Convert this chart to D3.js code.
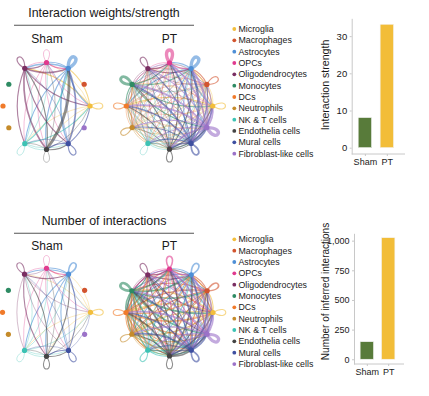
<!DOCTYPE html>
<html>
<head>
<meta charset="utf-8">
<script src="https://cdn.jsdelivr.net/npm/d3@7"></script>
<style>
  body { margin: 0; background: #fff; }
  text { font-family: "Liberation Sans", Arial, sans-serif; fill: #1a1a1a; }
</style>
</head>
<body>
<script>
// cell groups, in the order they sit round the circle (counter-clockwise from the right)
var cellTypes = ["Microglia", "Macrophages", "Astrocytes", "OPCs", "Oligodendrocytes", "Monocytes",
                 "DCs", "Neutrophils", "NK & T cells", "Endothelia cells", "Mural cells", "Fibroblast-like cells"];
var cellColors = ["#F2BE3C", "#D2542E", "#4E8FD6", "#E03A8E", "#7A2E62", "#2E8B63",
                  "#F07A2A", "#C58B2A", "#3DC2B4", "#444444", "#3E4FA0", "#9B72C8"];
var groups = ["Sham", "PT"];

// interaction strength, row = sender, column = receiver
var strengthSham = [
  [2, 0, 2, 1, 2, 0, 0, 0, 1, 1, 1, 0],
  [0, 0, 0, 0, 0, 0, 0, 0, 0, 0, 0, 0],
  [2, 0, 6, 2, 3, 0, 0, 0, 2, 2, 3, 0],
  [1, 0, 2, 1, 1, 0, 0, 0, 1, 1, 1, 0],
  [2, 0, 3, 2, 2, 0, 0, 0, 2, 3, 2, 0],
  [0, 0, 0, 0, 0, 0, 0, 0, 0, 0, 0, 0],
  [0, 0, 0, 0, 0, 0, 0, 0, 0, 0, 0, 0],
  [0, 0, 0, 0, 0, 0, 0, 0, 0, 0, 0, 0],
  [2, 0, 2, 1, 1, 0, 0, 0, 1, 1, 1, 0],
  [1, 0, 5, 1, 2, 0, 0, 0, 1, 1, 2, 0],
  [2, 0, 3, 1, 1, 0, 0, 0, 1, 2, 2, 0],
  [0, 0, 0, 0, 0, 0, 0, 0, 0, 0, 0, 0]
];
var strengthPT = [
  [2, 1, 2, 1, 1, 1, 2, 1, 1, 1, 1, 2],
  [1, 2, 2, 1, 1, 1, 1, 1, 1, 1, 1, 1],
  [2, 1, 6, 2, 1, 1, 2, 1, 1, 2, 2, 2],
  [1, 1, 2, 6, 1, 1, 1, 1, 1, 1, 1, 1],
  [1, 1, 2, 2, 2, 1, 1, 1, 1, 1, 1, 1],
  [2, 1, 2, 2, 1, 5, 2, 1, 1, 1, 1, 2],
  [1, 1, 1, 1, 1, 2, 2, 1, 1, 1, 1, 1],
  [1, 1, 1, 1, 1, 1, 2, 2, 1, 1, 1, 1],
  [1, 1, 1, 1, 1, 1, 1, 1, 1, 1, 1, 1],
  [2, 1, 2, 2, 1, 2, 2, 1, 1, 2, 2, 2],
  [3, 2, 4, 3, 2, 3, 3, 2, 2, 3, 3, 3],
  [3, 2, 4, 3, 2, 3, 3, 2, 2, 3, 3, 6]
];

// number of interactions, row = sender, column = receiver
var countSham = [
  [2, 0, 1, 1, 1, 0, 0, 0, 1, 1, 1, 0],
  [0, 0, 0, 0, 0, 0, 0, 0, 0, 0, 0, 0],
  [1, 0, 3, 2, 2, 0, 0, 0, 2, 2, 2, 0],
  [1, 0, 2, 1, 1, 0, 0, 0, 1, 1, 1, 0],
  [1, 0, 2, 1, 2, 0, 0, 0, 1, 2, 1, 0],
  [0, 0, 0, 0, 0, 0, 0, 0, 0, 0, 0, 0],
  [0, 0, 0, 0, 0, 0, 0, 0, 0, 0, 0, 0],
  [0, 0, 0, 0, 0, 0, 0, 0, 0, 0, 0, 0],
  [1, 0, 1, 1, 1, 0, 0, 0, 1, 1, 1, 0],
  [1, 0, 2, 1, 2, 0, 0, 0, 1, 2, 2, 0],
  [1, 0, 2, 1, 1, 0, 0, 0, 1, 2, 2, 0],
  [0, 0, 0, 0, 0, 0, 0, 0, 0, 0, 0, 0]
];
var countPT = [
  [2, 2, 2, 2, 1, 2, 3, 2, 1, 2, 2, 2],
  [2, 3, 2, 2, 1, 2, 2, 2, 1, 2, 2, 2],
  [2, 2, 3, 2, 2, 2, 2, 2, 2, 2, 2, 2],
  [2, 2, 2, 3, 1, 2, 2, 2, 1, 2, 2, 2],
  [2, 1, 2, 2, 2, 1, 2, 1, 1, 2, 2, 2],
  [3, 3, 3, 3, 2, 5, 3, 3, 2, 3, 3, 3],
  [3, 2, 2, 2, 2, 3, 2, 2, 2, 2, 2, 2],
  [2, 2, 2, 2, 1, 2, 3, 2, 1, 2, 2, 2],
  [1, 1, 2, 1, 1, 2, 2, 1, 2, 2, 2, 2],
  [3, 2, 3, 3, 2, 3, 3, 2, 2, 2, 3, 3],
  [3, 3, 3, 3, 2, 3, 3, 3, 2, 3, 3, 3],
  [3, 3, 4, 3, 2, 3, 3, 3, 2, 3, 3, 6]
];

// bar chart totals
var totalStrength = [8.1, 33.2];
var totalCount = [148, 1025];
var strengthTicks = [0, 10, 20, 30];
var countTicks = [0, 250, 500, 750, 1000];
var barColors = ["#587B3A", "#F2BD38"];

var svg = d3.select("body").append("svg")
  .attr("width", 429)
  .attr("height", 396);

var angle = d3.scaleLinear().domain([0, cellTypes.length]).range([0, 2 * Math.PI]);

function drawCircle(g, cx, cy, r, mat, wScale) {
  var pos = cellTypes.map(function (d, i) {
    var a = angle(i);
    return { x: cx + r * Math.cos(a), y: cy - r * Math.sin(a), a: a };
  });

  var edges = [];
  mat.forEach(function (row, i) {
    row.forEach(function (w, j) {
      if (i != j && w > 0) edges.push({ s: i, t: j, w: w });
    });
  });

  g.selectAll("path.edge")
    .data(edges)
    .enter().append("path")
    .attr("class", "edge")
    .attr("fill", "none")
    .attr("stroke", function (d) { return cellColors[d.s]; })
    .attr("stroke-opacity", 0.6)
    .attr("stroke-width", function (d) { return wScale(d.w); })
    .attr("d", function (d) {
      var p0 = pos[d.s], p1 = pos[d.t];
      var dx = p1.x - p0.x, dy = p1.y - p0.y;
      var mx = (p0.x + p1.x) / 2, my = (p0.y + p1.y) / 2;
      var k = 0.2;
      var p = d3.path();
      p.moveTo(p0.x, p0.y);
      p.quadraticCurveTo(mx - dy * k, my + dx * k, p1.x, p1.y);
      return p.toString();
    });

  // self-loops pointing outward
  var loops = [];
  mat.forEach(function (row, i) { if (row[i] > 0) loops.push({ i: i, w: row[i] }); });

  g.selectAll("path.loop")
    .data(loops)
    .enter().append("path")
    .attr("class", "loop")
    .attr("fill", "none")
    .attr("stroke", function (d) { return cellColors[d.i]; })
    .attr("stroke-opacity", 0.6)
    .attr("stroke-width", function (d) { return wScale(d.w); })
    .attr("d", function (d) {
      var p0 = pos[d.i];
      var L = 20, th = 0.55;
      var a1 = p0.a + th, a2 = p0.a - th;
      var p = d3.path();
      p.moveTo(p0.x, p0.y);
      p.bezierCurveTo(p0.x + L * Math.cos(a1), p0.y - L * Math.sin(a1),
                      p0.x + L * Math.cos(a2), p0.y - L * Math.sin(a2),
                      p0.x, p0.y);
      return p.toString();
    });

  g.selectAll("circle.node")
    .data(pos)
    .enter().append("circle")
    .attr("class", "node")
    .attr("cx", function (d) { return d.x; })
    .attr("cy", function (d) { return d.y; })
    .attr("r", 2.6)
    .attr("fill", function (d, i) { return cellColors[i]; });
}

function drawLegend(g, x, y0, step) {
  var item = g.selectAll("g.leg")
    .data(cellTypes)
    .enter().append("g")
    .attr("class", "leg")
    .attr("transform", function (d, i) { return "translate(" + x + "," + (y0 + i * step) + ")"; });
  item.append("circle")
    .attr("r", 1.9)
    .attr("fill", function (d, i) { return cellColors[i]; });
  item.append("text")
    .attr("x", 4.2)
    .attr("dy", "0.35em")
    .style("font-size", "8.8px")
    .text(function (d) { return d; });
}

function drawBars(g, values, ticks, o) {
  var y = d3.scaleLinear().domain(o.domain).range([o.yBottom, o.yTop]);
  var x = d3.scalePoint().domain(groups).range([o.x0, o.x1]).padding(0.6);

  g.selectAll("rect")
    .data(values)
    .enter().append("rect")
    .attr("x", function (d, i) { return x(groups[i]) - 6.7; })
    .attr("width", 13.4)
    .attr("y", function (d) { return y(d); })
    .attr("height", function (d) { return y(0) - y(d); })
    .attr("fill", function (d, i) { return barColors[i]; })
    .attr("stroke", "#f4f4f4")
    .attr("stroke-width", 0.6);

  var ya = g.append("g")
    .attr("transform", "translate(" + o.x0 + ",0)")
    .call(d3.axisLeft(y).tickValues(ticks).tickSize(2).tickPadding(2.5).tickSizeOuter(0));
  ya.select(".domain").attr("stroke", "#c8c8c8");
  ya.selectAll(".tick line").attr("stroke", "#c8c8c8");
  ya.selectAll(".tick text").style("font-size", o.tickFont).style("font-family", "Liberation Sans, Arial, sans-serif").attr("fill", "#1a1a1a");

  var xa = g.append("g")
    .attr("transform", "translate(0," + o.yBottom + ")")
    .call(d3.axisBottom(x).tickSize(2).tickPadding(3).tickSizeOuter(0));
  xa.select(".domain").attr("d", "M" + o.x0 + ",0H" + o.axisEnd).attr("stroke", "#c8c8c8");
  xa.selectAll(".tick line").attr("stroke", "#c8c8c8");
  xa.selectAll(".tick text").style("font-size", "9px").style("font-family", "Liberation Sans, Arial, sans-serif").attr("fill", "#1a1a1a");

  g.append("text")
    .attr("transform", "translate(" + o.labelX + "," + o.labelY + ") rotate(-90)")
    .attr("text-anchor", "middle")
    .style("font-size", o.labelFont)
    .text(o.label);
}

function drawHeader(g, title, yTitle, yLine, yGroup) {
  g.append("text").attr("x", 104).attr("y", yTitle).attr("text-anchor", "middle")
    .style("font-size", "12.4px").text(title);
  g.append("line").attr("x1", 14).attr("x2", 194).attr("y1", yLine).attr("y2", yLine)
    .attr("stroke", "#555").attr("stroke-width", 1.1);
  g.append("text").attr("x", 47).attr("y", yGroup).attr("text-anchor", "middle")
    .style("font-size", "12px").text(groups[0]);
  g.append("text").attr("x", 169.5).attr("y", yGroup).attr("text-anchor", "middle")
    .style("font-size", "12px").text(groups[1]);
}

// top panel: interaction strength
var maxS = d3.max(strengthSham.concat(strengthPT), function (r) { return d3.max(r); });
var wS = d3.scaleLinear().domain([0, maxS]).range([0, 3.4]);
var panelTop = svg.append("g");
drawHeader(panelTop, "Interaction weights/strength", 16.5, 25.3, 43);
drawCircle(panelTop.append("g"), 46.5, 106, 43.5, strengthSham, wS);
drawCircle(panelTop.append("g"), 169.5, 106, 43.2, strengthPT, wS);
drawLegend(panelTop.append("g"), 234.3, 29, 11.33);
drawBars(panelTop.append("g"), totalStrength, strengthTicks, {
  x0: 351.7, x1: 400, axisEnd: 405, yTop: 18.3, yBottom: 154, domain: [-1.7, 34.8],
  tickFont: "9.5px", labelX: 329, labelY: 85, labelFont: "10.6px", label: "Interaction strength"
});

// bottom panel: number of interactions
var maxC = d3.max(countSham.concat(countPT), function (r) { return d3.max(r); });
var wC = d3.scaleLinear().domain([0, maxC]).range([0, 3.2]);
var panelBottom = svg.append("g");
drawHeader(panelBottom, "Number of interactions", 224.5, 233.3, 249.8);
drawCircle(panelBottom.append("g"), 46.5, 312.3, 44, countSham, wC);
drawCircle(panelBottom.append("g"), 169.5, 312.5, 43.5, countPT, wC);
drawLegend(panelBottom.append("g"), 234.3, 239.3, 11.34);
drawBars(panelBottom.append("g"), totalCount, countTicks, {
  x0: 354, x1: 401, axisEnd: 404, yTop: 233.3, yBottom: 364, domain: [-40, 1062],
  tickFont: "9px", labelX: 329, labelY: 291.5, labelFont: "10px", label: "Number of inferred interactions"
});
</script>
</body>
</html>
